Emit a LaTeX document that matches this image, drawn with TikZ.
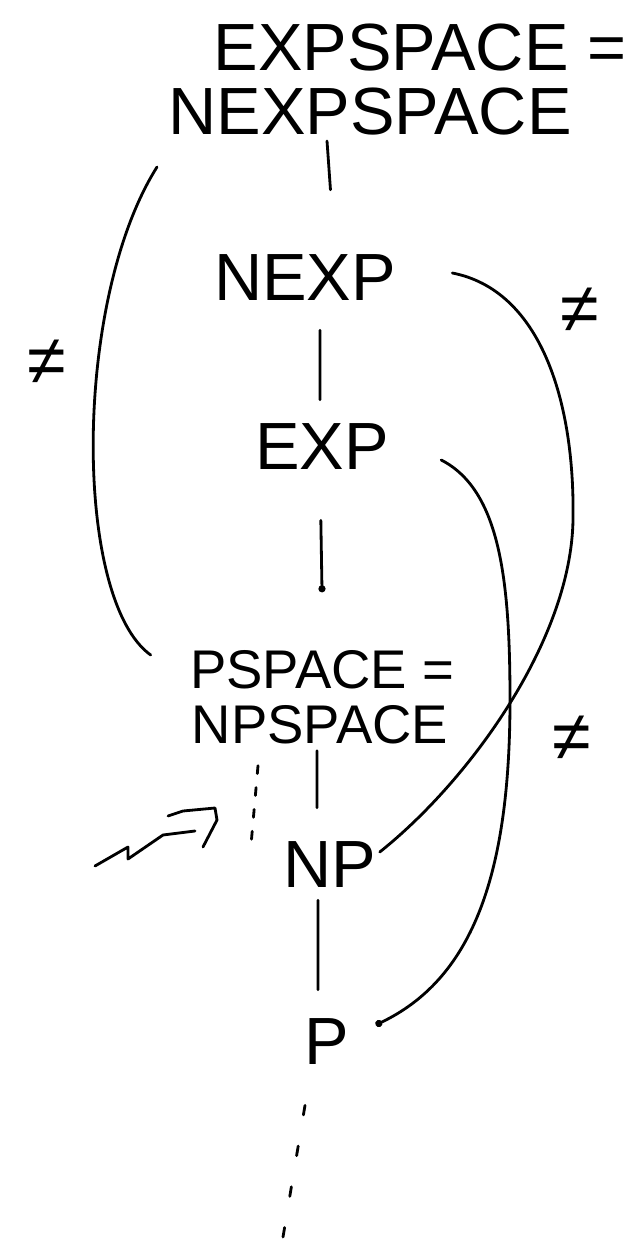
\documentclass[tikz,border=0pt]{standalone}
\usepackage{fontspec}
\setmainfont{Liberation Sans}
\usetikzlibrary{arrows.meta}

\tikzset{
    cls/.style={inner sep=0pt, font=\fontsize{38}{44}\selectfont},
    clssmall/.style={inner sep=0pt, font=\fontsize{31}{38}\selectfont},
    ne/.style={inner sep=0pt, font=\fontsize{40}{46}\selectfont},
    gap/.style={dash pattern=on 4.5pt off 8pt},
    gapwide/.style={dash pattern=on 5.5pt off 18pt},
}

\begin{document}
\begin{tikzpicture}[x=0.02cm, y=-0.02cm, line width=1.6pt, line cap=round, line join=round]
    \useasboundingbox (0,0) rectangle (643,1243);

    \node[cls] (expspace) at (420,48) {EXPSPACE =};
    \node[cls] (nexpspace) at (370,112) {NEXPSPACE};
    \node[cls] (nexp) at (305,278) {NEXP};
    \node[cls] (exp) at (322,447) {EXP};
    \node[clssmall] (pspace) at (322,670) {PSPACE =};
    \node[clssmall] (npspace) at (320,725) {NPSPACE};
    \node[cls] (np) at (330,865) {NP};
    \node[cls] (p) at (327,1042) {P};

    \node[ne] (neleft) at (47,362) {≠};
    \node[ne] (netop) at (580,310) {≠};
    \node[ne] (nebottom) at (572,738) {≠};

    % the chain
    \draw[shorten >=1.28cm] ([xshift=-0.86cm, yshift=-0.08cm]nexpspace.south) -- ([xshift=0.6cm]nexp.north);
    \draw[shorten <=0.56cm, shorten >=0.46cm] ([xshift=0.3cm]nexp.south) -- ([xshift=-0.04cm]exp.north);
    \draw[shorten <=0.98cm, shorten >=1.14cm, -{Circle[length=4pt]}] ([xshift=-0.04cm]exp.south) -- ([xshift=0.02cm]pspace.north);
    \draw[shorten <=0.1cm, shorten >=0.66cm] ([xshift=-0.06cm]npspace.south) -- ([xshift=-0.26cm]np.north);
    \draw[shorten <=0.22cm, shorten >=0.56cm] ([xshift=-0.24cm]np.south) -- ([xshift=-0.18cm]p.north);

    % open parts
    \draw[gap] ([xshift=-1.24cm, yshift=-0.4cm]npspace.south) -- ([xshift=-0.63cm, yshift=0.34cm]np.west);
    \coordinate (bottom) at (283,1237);
    \draw[gapwide] ([xshift=-0.44cm, yshift=-0.78cm]p.south) -- (bottom);

    % separations
    \draw ([xshift=-0.2cm, yshift=-0.6cm]nexpspace.south west) .. controls (73,300) and (73,599) .. ([xshift=-0.76cm, yshift=0.3cm]pspace.west);
    \draw ([xshift=1.1cm, yshift=0.1cm]nexp.east) .. controls (540,290) and (575,400) .. (573,520)
        .. controls (571,640) and (470,780) .. ([xshift=0.04cm, yshift=0.26cm]np.east);
    \draw[-{Circle[length=4pt]}] ([xshift=1.02cm, yshift=-0.26cm]exp.east) .. controls (500,490) and (510,580) .. (510,700)
        .. controls (510,880) and (470,980) .. ([xshift=0.5cm, yshift=0.34cm]p.east);

    % hint
    \coordinate (hint) at (95,866);
    \draw (hint) -- (128,847) -- (128,859) -- (163,835) -- (195,831);
    \draw (168,816) -- (183,811) -- (215,808) -- (217,820) -- (203,847);
\end{tikzpicture}
\end{document}
